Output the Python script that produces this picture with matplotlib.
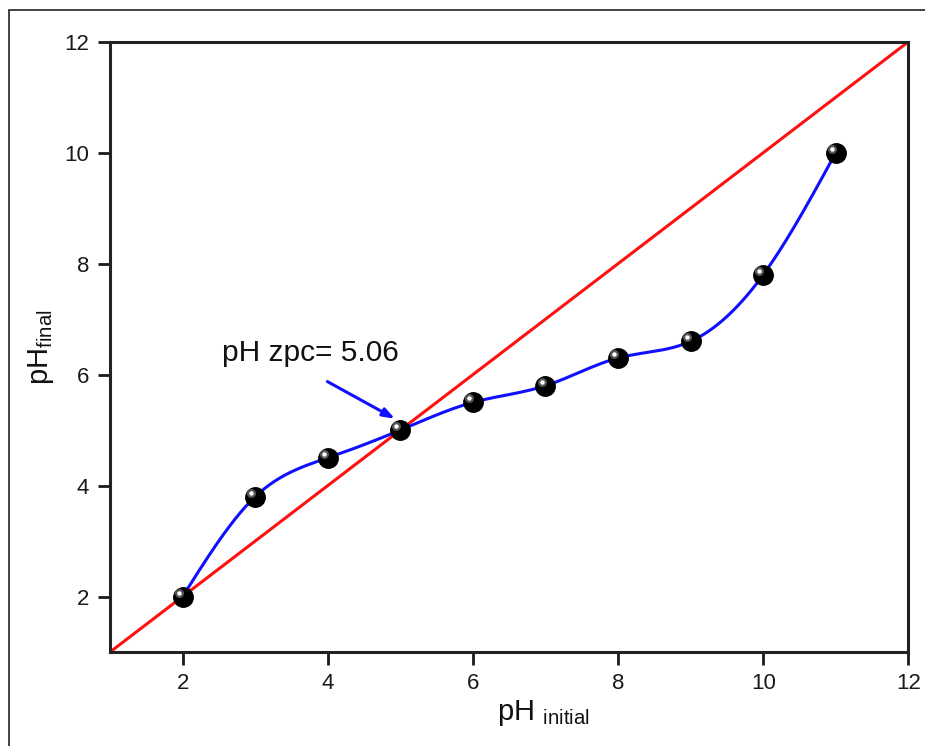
import numpy as np
import matplotlib.pyplot as plt
from matplotlib.patches import Rectangle
from matplotlib.transforms import ScaledTranslation

plt.rcParams['font.family'] = ['Liberation Sans', 'DejaVu Sans']
plt.rcParams['mathtext.fontset'] = 'custom'
plt.rcParams['mathtext.rm'] = 'Liberation Sans'

ph_initial = [2, 3, 4, 5, 6, 7, 8, 9, 10, 11]
ph_final = [2.0, 3.8, 4.5, 5.0, 5.5, 5.8, 6.3, 6.6, 7.8, 10.0]
zpc_label = "pH zpc= 5.06"


def natural_spline(x, y, n=400):
    # natural cubic spline through the points, only used to draw the smooth line
    x = np.asarray(x, float)
    y = np.asarray(y, float)
    k = len(x)
    h = np.diff(x)
    A = np.zeros((k, k))
    b = np.zeros(k)
    A[0, 0] = A[-1, -1] = 1
    for i in range(1, k - 1):
        A[i, i - 1] = h[i - 1]
        A[i, i] = 2 * (h[i - 1] + h[i])
        A[i, i + 1] = h[i]
        b[i] = 6 * ((y[i + 1] - y[i]) / h[i] - (y[i] - y[i - 1]) / h[i - 1])
    M = np.linalg.solve(A, b)
    xs = np.linspace(x[0], x[-1], n)
    idx = np.clip(np.searchsorted(x, xs) - 1, 0, k - 2)
    x0, x1 = x[idx], x[idx + 1]
    hh = x1 - x0
    t0, t1 = x1 - xs, xs - x0
    ys = (M[idx] * t0 ** 3 + M[idx + 1] * t1 ** 3) / (6 * hh) \
        + (y[idx] / hh - M[idx] * hh / 6) * t0 + (y[idx + 1] / hh - M[idx + 1] * hh / 6) * t1
    return xs, ys


fig = plt.figure(figsize=(9.25, 7.46), dpi=100)
ax = fig.add_axes([0.119, 0.126, 0.863, 0.818])

# outer frame of the picture
fig.patches.append(Rectangle((9 / 925, -0.1), 2, (736 / 746) + 0.1, transform=fig.transFigure,
                             fill=False, edgecolor='#222222', linewidth=1.2))

ax.plot([1, 12], [1, 12], color='#ff1010', linewidth=2.2, zorder=2)
xs, ys = natural_spline(ph_initial, ph_final)
ax.plot(xs, ys, color='#1010ff', linewidth=2.2, zorder=3)

# shaded balls
shift = ax.transData + ScaledTranslation(-2.8 / 72, 2.8 / 72, fig.dpi_scale_trans)
ax.plot(ph_initial, ph_final, 'o', color='black', markersize=14, zorder=4)
ax.plot(ph_initial, ph_final, 'o', color='#555555', markersize=6.5, zorder=5,
        markeredgewidth=0, transform=shift)
ax.plot(ph_initial, ph_final, 'o', color='white', markersize=3.2, zorder=6,
        markeredgewidth=0, transform=shift)

ax.text(2.54, 6.39, zpc_label, fontsize=21.5, ha='left', va='center', color='#111111')
ax.annotate('', xy=(4.96, 5.18), xytext=(3.96, 5.9),
            arrowprops=dict(arrowstyle='-|>,head_length=0.7,head_width=0.25', color='#1010ff', lw=2.2))

ax.set_xlim(1, 12)
ax.set_ylim(1, 12)
ax.set_xticks([2, 4, 6, 8, 10, 12])
ax.set_yticks([2, 4, 6, 8, 10, 12])
ax.tick_params(axis='both', direction='out', length=9, width=2, labelsize=16,
               colors='#1a1a1a', pad=6)
for s in ax.spines.values():
    s.set_linewidth(2.2)
    s.set_color('#222222')

ax.set_xlabel(r'pH $_{\mathrm{initial}}$', fontsize=21, color='#111111')
ax.xaxis.set_label_coords(0.543, -0.075)
ax.set_ylabel(r'pH$_{\mathrm{final}}$', fontsize=21, color='#111111')
ax.yaxis.set_label_coords(-0.068, 0.5)

fig.savefig('out.png', dpi=100)
